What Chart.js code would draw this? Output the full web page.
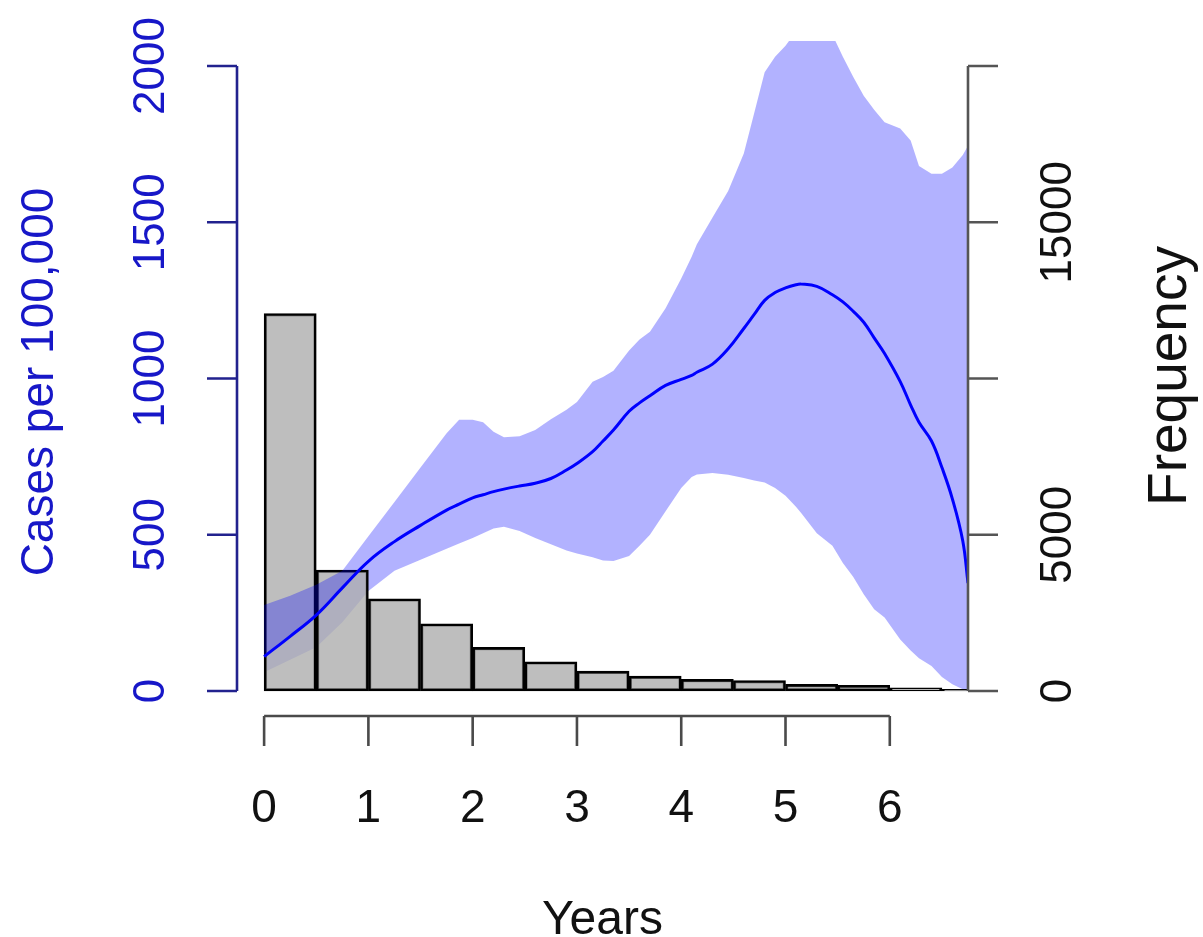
<!DOCTYPE html>
<html>
<head>
<meta charset="utf-8">
<style>
  html, body { margin: 0; padding: 0; background: #ffffff; }
  canvas { display: block; }
</style>
<script src="https://cdn.jsdelivr.net/npm/chart.js@4.4.1/dist/chart.umd.min.js"></script>
</head>
<body>
<canvas id="chart" width="1203" height="937"></canvas>
<script>
// Histogram of follow-up time (half-year bins) on the right axis
const binCentres = [0.25, 0.75, 1.25, 1.75, 2.25, 2.75, 3.25, 3.75, 4.25, 4.75, 5.25, 5.75, 6.25, 6.75];
const binCounts  = [12080, 3870, 2950, 2150, 1395, 935, 635, 475, 370, 335, 210, 185, 100, 50];

// Incidence estimate with its confidence band (cases per 100,000)
const years = [0, 0.25, 0.5, 0.75, 1.0, 1.25, 1.5, 1.75, 1.87, 2.0, 2.1, 2.2, 2.3, 2.45, 2.6, 2.75, 2.9, 3.0,
  3.15, 3.25, 3.35, 3.5, 3.6, 3.7, 3.85, 4.0, 4.1, 4.15, 4.3, 4.45, 4.6, 4.7, 4.8, 4.9, 5.0, 5.1, 5.15, 5.3,
  5.45, 5.55, 5.65, 5.75, 5.85, 5.95, 6.1, 6.2, 6.28, 6.4, 6.5, 6.6, 6.7, 6.75];
const casesRate = [110, 175, 243, 330, 415, 478, 530, 579, 598, 618, 628, 638, 646, 656, 665, 680, 707, 728,
  766, 800, 835, 895, 922, 945, 978, 997, 1010, 1020, 1046, 1095, 1160, 1205, 1250, 1275, 1290, 1300, 1302, 1295,
  1268, 1245, 1215, 1180, 1130, 1080, 990, 915, 860, 800, 715, 615, 480, 345];
const casesUpper = [275, 305, 340, 385, 495, 605, 715, 825, 868, 868, 860, 830, 812, 815, 835, 870, 900, 925,
  990, 1005, 1025, 1090, 1125, 1150, 1225, 1320, 1390, 1430, 1515, 1600, 1720, 1850, 1980, 2030, 2065, 2110, 2130, 2150,
  2100, 2030, 1965, 1905, 1860, 1820, 1800, 1762, 1680, 1655, 1655, 1675, 1715, 1745];
const casesLower = [60, 100, 140, 220, 320, 385, 420, 455, 472, 490, 505, 520, 526, 512, 490, 470, 450, 440,
  428, 418, 416, 432, 465, 500, 575, 650, 685, 693, 698, 692, 682, 674, 667, 650, 625, 590, 570, 505,
  465, 410, 365, 310, 262, 235, 165, 130, 105, 80, 45, 22, 6, 0];

// Axis ticks and labels
const yearTicks = [0, 1, 2, 3, 4, 5, 6];
const casesTicks = [0, 500, 1000, 1500, 2000];
const freqTicks = [0, 5000, 10000, 15000, 20000];
const freqTickLabels = ['0', '5000', '', '15000', ''];

const toPoints = (xs, ys) => xs.map((x, i) => ({ x: x, y: ys[i] }));

const FONT = "'Liberation Sans', Arial, Helvetica, sans-serif";

// R-style axes: lines spanning only the tick range, outward ticks, rotated y labels
const baseAxes = {
  id: 'baseAxes',
  afterDraw(chart) {
    const ctx = chart.ctx;
    const { x, y, y2 } = chart.scales;
    ctx.save();
    ctx.lineCap = 'butt';

    // bottom axis (years)
    const axisY = chart.chartArea.bottom;
    ctx.strokeStyle = '#4a4a4a';
    ctx.lineWidth = 2.6;
    ctx.beginPath();
    ctx.moveTo(x.getPixelForValue(yearTicks[0]), axisY);
    ctx.lineTo(x.getPixelForValue(yearTicks[yearTicks.length - 1]), axisY);
    yearTicks.forEach(v => {
      const px = x.getPixelForValue(v);
      ctx.moveTo(px, axisY);
      ctx.lineTo(px, axisY + 30);
    });
    ctx.stroke();
    ctx.fillStyle = '#111111';
    ctx.font = '46px ' + FONT;
    ctx.textAlign = 'center';
    ctx.textBaseline = 'alphabetic';
    yearTicks.forEach(v => ctx.fillText(String(v), x.getPixelForValue(v), 822));
    ctx.font = '48px ' + FONT;
    ctx.fillText('Years', (chart.chartArea.left + chart.chartArea.right) / 2, 934);

    // left axis (cases per 100,000)
    const leftX = chart.chartArea.left;
    ctx.strokeStyle = '#22228e';
    ctx.lineWidth = 2.6;
    ctx.beginPath();
    ctx.moveTo(leftX, y.getPixelForValue(casesTicks[0]));
    ctx.lineTo(leftX, y.getPixelForValue(casesTicks[casesTicks.length - 1]));
    casesTicks.forEach(v => {
      const py = y.getPixelForValue(v);
      ctx.moveTo(leftX, py);
      ctx.lineTo(leftX - 30, py);
    });
    ctx.stroke();
    ctx.fillStyle = '#1717c8';
    ctx.font = '44px ' + FONT;
    casesTicks.forEach(v => {
      ctx.save();
      ctx.translate(164, y.getPixelForValue(v));
      ctx.rotate(-Math.PI / 2);
      ctx.fillText(String(v), 0, 0);
      ctx.restore();
    });
    ctx.save();
    ctx.font = '46px ' + FONT;
    ctx.translate(53, 382);
    ctx.rotate(-Math.PI / 2);
    ctx.fillText('Cases per 100,000', 0, 0);
    ctx.restore();

    // right axis (frequency)
    const rightX = chart.chartArea.right;
    ctx.strokeStyle = '#555555';
    ctx.lineWidth = 2.6;
    ctx.beginPath();
    ctx.moveTo(rightX, y2.getPixelForValue(freqTicks[0]));
    ctx.lineTo(rightX, y2.getPixelForValue(freqTicks[freqTicks.length - 1]));
    freqTicks.forEach(v => {
      const py = y2.getPixelForValue(v);
      ctx.moveTo(rightX, py);
      ctx.lineTo(rightX + 30, py);
    });
    ctx.stroke();
    ctx.fillStyle = '#111111';
    ctx.font = '44px ' + FONT;
    freqTicks.forEach((v, i) => {
      if (!freqTickLabels[i]) return;
      ctx.save();
      ctx.translate(1071, y2.getPixelForValue(v));
      ctx.rotate(-Math.PI / 2);
      ctx.fillText(freqTickLabels[i], 0, 0);
      ctx.restore();
    });
    ctx.save();
    ctx.font = '55px ' + FONT;
    ctx.translate(1186, 376);
    ctx.rotate(-Math.PI / 2);
    ctx.fillText('Frequency', 0, 0);
    ctx.restore();

    ctx.restore();
  }
};

new Chart(document.getElementById('chart'), {
  type: 'bar',
  data: {
    datasets: [
      {
        type: 'bar',
        label: 'Frequency',
        data: toPoints(binCentres, binCounts),
        yAxisID: 'y2',
        backgroundColor: 'rgba(174,174,174,0.8)',
        borderColor: '#000000',
        borderWidth: 2.6,
        borderSkipped: false,
        barPercentage: 1,
        categoryPercentage: 1,
        order: 3
      },
      {
        type: 'line',
        label: 'Cases per 100,000',
        data: toPoints(years, casesRate),
        yAxisID: 'y',
        borderColor: '#0000ff',
        borderWidth: 3,
        pointRadius: 0,
        tension: 0.4,
        fill: false,
        order: 1
      },
      {
        type: 'line',
        label: 'Upper limit',
        data: toPoints(years, casesUpper),
        yAxisID: 'y',
        borderWidth: 0,
        borderColor: 'rgba(0,0,0,0)',
        backgroundColor: 'rgba(0,0,255,0.3)',
        pointRadius: 0,
        tension: 0,
        fill: 1,
        order: 2
      },
      {
        type: 'line',
        label: 'Lower limit',
        data: toPoints(years, casesLower),
        yAxisID: 'y',
        borderWidth: 0,
        borderColor: 'rgba(0,0,0,0)',
        backgroundColor: 'rgba(0,0,255,0.3)',
        pointRadius: 0,
        tension: 0,
        fill: 1,
        order: 4
      }
    ]
  },
  options: {
    responsive: false,
    devicePixelRatio: 1,
    animation: false,
    events: [],
    layout: { padding: { left: 237, right: 235, top: 41, bottom: 221 } },
    plugins: {
      legend: { display: false },
      tooltip: { enabled: false }
    },
    scales: {
      x: {
        type: 'linear',
        display: false,
        offset: false,
        min: -0.26,
        max: 6.75,
        afterBuildTicks: scale => { scale.ticks = yearTicks.map(v => ({ value: v })); }
      },
      y: { type: 'linear', display: false, min: -80, max: 2080 },
      y2: { type: 'linear', display: false, min: -800, max: 20800 }
    }
  },
  plugins: [baseAxes]
});
</script>
</body>
</html>
